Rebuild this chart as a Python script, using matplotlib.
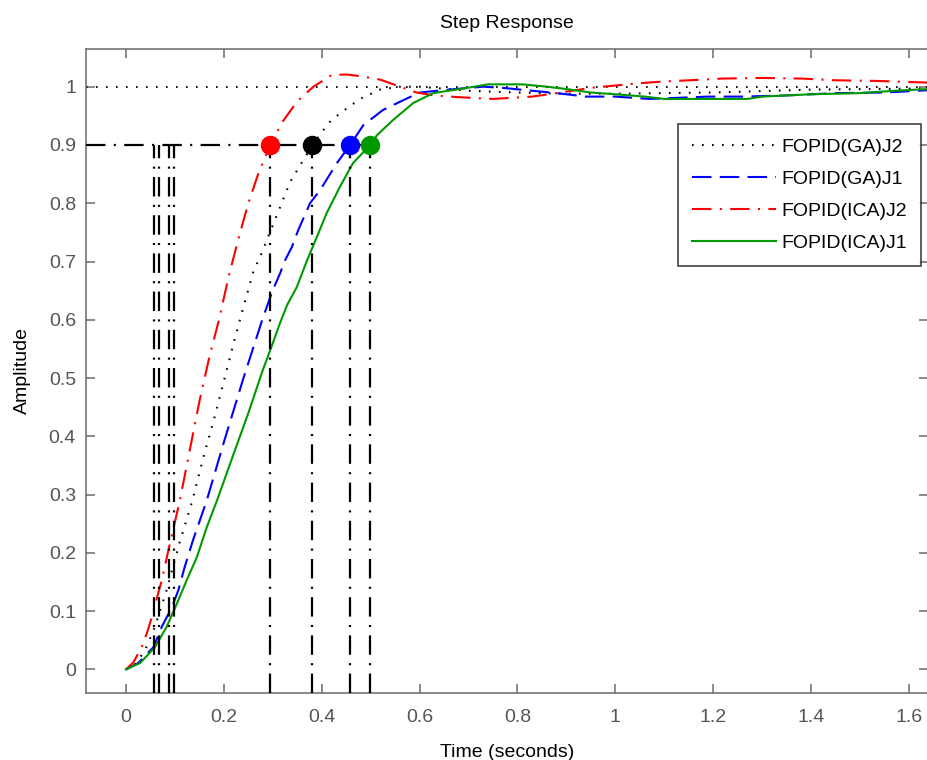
import matplotlib
matplotlib.use("Agg")
import matplotlib.pyplot as plt
import numpy as np

plt.rcParams["font.family"] = ["Liberation Sans", "DejaVu Sans"]
plt.rcParams["lines.scale_dashes"] = False

# Step responses of the four controllers
t_ga_j2 = [0, 0.02, 0.039, 0.059, 0.083, 0.094, 0.11, 0.135, 0.16, 0.18, 0.2, 0.22, 0.237,
           0.26, 0.278, 0.294, 0.311, 0.335, 0.36, 0.381, 0.40, 0.417, 0.437, 0.478, 0.519,
           0.56, 0.6, 0.7, 0.8, 0.9, 1.0, 1.2, 1.4, 1.64]
y_ga_j2 = [0, 0.01, 0.033, 0.073, 0.136, 0.17, 0.219, 0.288, 0.37, 0.43, 0.495, 0.56, 0.613,
           0.682, 0.716, 0.75, 0.785, 0.836, 0.871, 0.9, 0.922, 0.94, 0.954, 0.979, 0.995,
           1.0, 1.0, 0.993, 0.99, 0.988, 0.988, 0.99, 0.995, 0.997]

t_ga_j1 = [0, 0.025, 0.056, 0.073, 0.094, 0.107, 0.12, 0.137, 0.151, 0.165, 0.2, 0.24, 0.28,
           0.30, 0.315, 0.325, 0.339, 0.352, 0.376, 0.397, 0.431, 0.458, 0.485, 0.505, 0.525,
           0.567, 0.6, 0.66, 0.73, 0.77, 0.83, 0.88, 0.94, 1.0, 1.07, 1.19, 1.26, 1.35, 1.45,
           1.55, 1.64]
y_ga_j1 = [0, 0.011, 0.038, 0.073, 0.107, 0.136, 0.176, 0.222, 0.256, 0.29, 0.39, 0.5, 0.604,
           0.651, 0.68, 0.702, 0.725, 0.754, 0.80, 0.823, 0.869, 0.9, 0.934, 0.947, 0.96,
           0.977, 0.99, 0.995, 1.0, 0.998, 0.993, 0.989, 0.983, 0.983, 0.979, 0.983, 0.983,
           0.985, 0.989, 0.99, 0.994]

t_ica_j2 = [0, 0.015, 0.032, 0.045, 0.055, 0.073, 0.09, 0.11, 0.13, 0.15, 0.17, 0.19, 0.21,
            0.23, 0.25, 0.27, 0.295, 0.32, 0.35, 0.383, 0.42, 0.45, 0.48, 0.52, 0.56, 0.594,
            0.63, 0.68, 0.75, 0.83, 0.88, 0.95, 1.0, 1.05, 1.1, 1.15, 1.22, 1.3, 1.38, 1.45,
            1.53, 1.64]
y_ica_j2 = [0, 0.012, 0.038, 0.068, 0.097, 0.153, 0.217, 0.29, 0.375, 0.46, 0.535, 0.6, 0.675,
            0.74, 0.8, 0.85, 0.9, 0.94, 0.975, 1.0, 1.02, 1.021, 1.018, 1.012, 1.0, 0.99,
            0.985, 0.982, 0.979, 0.983, 0.989, 0.998, 1.002, 1.006, 1.009, 1.011, 1.014,
            1.015, 1.014, 1.011, 1.010, 1.007]

t_ica_j1 = [0, 0.029, 0.059, 0.083, 0.104, 0.124, 0.145, 0.165, 0.186, 0.22, 0.25, 0.278,
            0.3, 0.315, 0.329, 0.349, 0.37, 0.39, 0.41, 0.437, 0.464, 0.499, 0.513, 0.546,
            0.587, 0.628, 0.697, 0.74, 0.81, 0.86, 0.9, 0.95, 1.0, 1.06, 1.1, 1.27, 1.3, 1.4,
            1.5, 1.57, 1.64]
y_ica_j1 = [0, 0.011, 0.038, 0.073, 0.113, 0.153, 0.193, 0.244, 0.29, 0.37, 0.44, 0.51,
            0.56, 0.595, 0.625, 0.656, 0.702, 0.742, 0.783, 0.828, 0.869, 0.9, 0.917, 0.943,
            0.972, 0.989, 0.998, 1.004, 1.004, 1.0, 0.996, 0.99, 0.987, 0.983, 0.979, 0.979,
            0.983, 0.987, 0.989, 0.993, 0.996]

labels = ["FOPID(GA)J2", "FOPID(GA)J1", "FOPID(ICA)J2", "FOPID(ICA)J1"]

# 10 % and 90 % rise-time instants (ICA J2, GA J2, GA J1, ICA J1)
t_rise10 = [0.058, 0.068, 0.087, 0.098]
t_rise90 = [0.295, 0.381, 0.458, 0.499]
marker_colors = ["#ff0000", "#000000", "#0000ff", "#009900"]
level90 = 0.9

x_ticks = [0, 0.2, 0.4, 0.6, 0.8, 1, 1.2, 1.4, 1.6]
x_ticklabels = ["0", "0.2", "0.4", "0.6", "0.8", "1", "1.2", "1.4", "1.6"]
y_ticks = [0, 0.1, 0.2, 0.3, 0.4, 0.5, 0.6, 0.7, 0.8, 0.9, 1]
y_ticklabels = ["0", "0.1", "0.2", "0.3", "0.4", "0.5", "0.6", "0.7", "0.8", "0.9", "1"]

xlim = (-0.0824, 1.640)
ylim = (-0.040, 1.0647)

W, H = 927, 760
fig = plt.figure(figsize=(W / 100, H / 100), dpi=100)
ax = fig.add_axes([85.7 / W, 1 - 692.7 / H, (928.5 - 85.7) / W, (692.7 - 49) / H])

axis_grey = "#6a6a6a"
dashdot = (0, (14, 6, 1.5, 6))

# steady-state reference
ax.plot(xlim, [1, 1], color="black", lw=1.3, linestyle=(0, (1.2, 6)), zorder=2)

l1, = ax.plot(t_ga_j2, y_ga_j2, color="black", lw=1.5, linestyle=(0, (1.2, 6)), zorder=3)
l2, = ax.plot(t_ga_j1, y_ga_j1, color="#0000ff", lw=1.5, linestyle=(0, (14, 6)), zorder=3)
l3, = ax.plot(t_ica_j2, y_ica_j2, color="#ff0000", lw=1.5, linestyle=dashdot, zorder=3)
l4, = ax.plot(t_ica_j1, y_ica_j1, color="#009900", lw=1.5, linestyle="-", zorder=3)

# rise-time guide lines
ax.plot([xlim[0], max(t_rise90)], [level90, level90], color="black", lw=1.6,
        linestyle=dashdot, zorder=4)
for tv in t_rise10 + t_rise90:
    ax.plot([tv, tv], [ylim[0], level90], color="black", lw=1.6, linestyle=dashdot, zorder=4)

for tv, c in zip(t_rise90, marker_colors):
    ax.plot([tv], [level90], marker="o", ms=13, color=c, mec=c, linestyle="none", zorder=5)

ax.set_xlim(*xlim)
ax.set_ylim(*ylim)
ax.set_xticks(x_ticks)
ax.set_xticklabels(x_ticklabels)
ax.set_yticks(y_ticks)
ax.set_yticklabels(y_ticklabels)

for sp in ax.spines.values():
    sp.set_color(axis_grey)
    sp.set_linewidth(1.1)
ax.tick_params(direction="in", length=6.5, width=1.1, color=axis_grey, labelcolor="#555555",
               labelsize=14, top=True, right=True)
ax.tick_params(axis="x", pad=12)
ax.tick_params(axis="y", pad=7)

ax.set_title("Step Response", fontsize=14, pad=15)
ax.set_xlabel("Time (seconds)", fontsize=14, labelpad=13)
ax.set_ylabel("Amplitude", fontsize=14, labelpad=13)

leg = ax.legend([l1, l2, l3, l4], labels, loc="upper right",
                bbox_to_anchor=(921 / W, 1 - 124 / H), bbox_transform=fig.transFigure,
                fontsize=14, frameon=True, fancybox=False, borderaxespad=0,
                handlelength=4.35, handletextpad=0.26, labelspacing=0.74,
                borderpad=0.72)
leg.get_frame().set_edgecolor("black")
leg.get_frame().set_linewidth(1.1)

fig.savefig("out.png", dpi=100)
